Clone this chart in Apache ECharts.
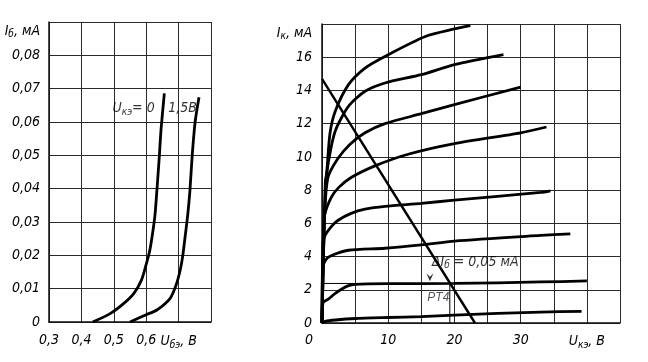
<!DOCTYPE html>
<html><head><meta charset="utf-8">
<script src="https://cdn.jsdelivr.net/npm/echarts@6/dist/echarts.min.js"></script>
<style>html,body{margin:0;padding:0;background:#fff}#c{width:648px;height:362px}</style>
</head><body><div id="c"></div>
<script>
// ---- Input characteristics I_b(U_be) ----
const inputCurveUce0 = [[0.435,0],[0.49,0.0026],[0.53,0.0055],[0.562,0.0086],[0.585,0.0125],[0.598,0.0166],[0.61,0.021],[0.618,0.0255],[0.627,0.032],[0.633,0.0395],[0.64,0.049],[0.646,0.058],[0.656,0.0686]];
const inputCurveUce15 = [[0.55,0],[0.6,0.0022],[0.633,0.0036],[0.674,0.0071],[0.692,0.011],[0.705,0.0156],[0.713,0.02],[0.72,0.0255],[0.728,0.032],[0.735,0.0395],[0.742,0.05],[0.751,0.06],[0.763,0.0674]];
const inputXTicks = {'0.3':'0,3','0.4':'0,4','0.5':'0,5','0.6':'0,6','0.7':'{i|U}{s|бэ}{i|, В}'};
const inputYTicks = ['0','0,01','0,02','0,03','0,04','0,05','0,06','0,07','0,08'];

// ---- Output characteristics I_k(U_ke), I_b step 0.05 mA ----
const outIb000 = [[0,0],[0.5,0.1],[2,0.18],[5,0.27],[10,0.33],[15,0.38],[20,0.48],[33,0.66],[39.2,0.7]];
const outIb005 = [[0,0],[0.15,1.2],[1,1.45],[2,1.78],[3,2.05],[4,2.25],[5,2.33],[10,2.37],[20,2.38],[33,2.47],[40,2.53]];
const outIb010 = [[0,0],[0.15,3.4],[0.7,3.87],[2,4.15],[4,4.38],[9.5,4.5],[15,4.7],[20,4.93],[33,5.27],[37.5,5.37]];
const outIb015 = [[0,0],[0.15,4.8],[0.5,5.3],[1.5,5.85],[2.5,6.2],[4.4,6.6],[6.5,6.85],[9.5,7.02],[15,7.2],[20,7.4],[33,7.86],[34.5,7.96]];
const outIb020 = [[0,0],[0.2,5.2],[0.4,6.5],[1.4,7.56],[2.5,8.15],[4.4,8.76],[8,9.46],[13,10.16],[20,10.8],[30,11.45],[33.9,11.8]];
const outIb025 = [[0,0],[0.4,6.5],[0.9,8.76],[2.4,9.9],[4.2,10.75],[6.5,11.45],[9.5,12.0],[15,12.6],[20,13.15],[30,14.2]];
const outIb030 = [[0,0],[0.5,8],[1,9.76],[2,11.56],[4,13.05],[6.5,13.95],[9.5,14.45],[15,14.95],[20,15.55],[27.4,16.15]];
const outIb035 = [[0,0],[0.5,8.5],[0.7,9.0],[1.2,11.4],[2,12.75],[4,14.35],[6.5,15.35],[9.5,16.05],[15.6,17.25],[20,17.7],[22.4,17.9]];
const loadLine = [[0,14.7],[23.1,0]];
const opPoint = [19.3,2.38];
const outXTicks = {'0':'{z|0}','10':'10','20':'20','30':'30','40':'{i|U}{s|кэ}{i|, В}'};
const outYTicks = ['0','2','4','6','8','10','12','14','16'];

const FONT = '"Liberation Sans Narrow","DejaVu Sans Condensed","DejaVu Sans",sans-serif';
const C = '#000';
const FS = 14;
const rich = {
  i:{fontFamily:FONT,fontStyle:'italic',fontSize:FS,color:C},
  s:{fontFamily:FONT,fontStyle:'italic',fontSize:10,color:C,padding:[7,0,0,0]},
  ti:{fontFamily:FONT,fontStyle:'italic',fontSize:FS,color:C,padding:[18,0,0,0]},
  ts:{fontFamily:FONT,fontStyle:'italic',fontSize:10,color:C,padding:[25,0,0,0]},
  z:{fontFamily:FONT,fontStyle:'italic',fontSize:FS,color:C,padding:[0,26,0,0]},
  p:{fontFamily:'"Liberation Sans",Arial,sans-serif',fontSize:12,color:'#2a2a3a'}
};
const lab = {fontFamily:FONT,fontStyle:'italic',fontSize:FS,color:C,rich:rich};
const gridLine = {show:true,lineStyle:{color:'#2a2a2a',width:1}};
const axLine = {show:true,lineStyle:{color:'#111',width:1.5}};
const curve = (data,xi) => ({type:'line',xAxisIndex:xi,yAxisIndex:xi,data:data,showSymbol:false,smooth:0.25,
  lineStyle:{color:'#000',width:2.8},silent:true,z:5});
const thin = (data) => ({type:'line',xAxisIndex:1,yAxisIndex:1,data:data,showSymbol:false,
  lineStyle:{color:'#000',width:1},silent:true,z:4});
const textPt = (xi,pt,fmt,pos) => ({type:'scatter',xAxisIndex:xi,yAxisIndex:xi,symbolSize:0,data:[pt],silent:true,
  label:{show:true,position:pos||'right',distance:0,formatter:fmt,rich:rich,fontFamily:FONT,fontStyle:'italic',fontSize:FS,color:C}});

const chart = echarts.init(document.getElementById('c'),null,{renderer:'canvas'});
chart.setOption({
  animation:false,
  backgroundColor:'#fff',
  grid:[{left:49,top:22,width:162,height:300},{left:322,top:24,width:298,height:299}],
  xAxis:[
    {type:'value',gridIndex:0,min:0.3,max:0.8,interval:0.1,axisLine:axLine,axisTick:{show:false},splitLine:gridLine,
     axisLabel:Object.assign({margin:11,showMinLabel:true,showMaxLabel:true,
       formatter:v=>inputXTicks[(Math.round(v*10)/10).toString()]||''},lab)},
    {type:'value',gridIndex:1,min:0,max:45,interval:5,axisLine:axLine,axisTick:{show:false},splitLine:gridLine,
     axisLabel:Object.assign({margin:10,showMinLabel:true,showMaxLabel:true,
       formatter:v=>outXTicks[String(Math.round(v))]||''},lab)}
  ],
  yAxis:[
    {type:'value',gridIndex:0,min:0,max:0.09,interval:0.01,axisLine:axLine,axisTick:{show:false},splitLine:gridLine,
     axisLabel:Object.assign({margin:9,showMinLabel:true,showMaxLabel:true,
       formatter:v=>{const k=Math.round(v*100);return k<inputYTicks.length?inputYTicks[k]:'{ti|I}{ts|б}{ti|, мА}';}},lab)},
    {type:'value',gridIndex:1,min:0,max:18,interval:2,axisLine:axLine,axisTick:{show:false},splitLine:gridLine,
     axisLabel:Object.assign({margin:10,showMinLabel:true,showMaxLabel:true,
       formatter:v=>{const k=Math.round(v/2);return k<outYTicks.length?outYTicks[k]:'{ti|I}{ts|к}{ti|, мА}';}},lab)}
  ],
  series:[
    curve(inputCurveUce0,0), curve(inputCurveUce15,0),
    textPt(0,[0.496,0.064],'{i|U}{s|кэ}{i|= 0}'),
    textPt(0,[0.668,0.064],'{i|1,5В}'),
    curve(outIb000,1),curve(outIb005,1),curve(outIb010,1),curve(outIb015,1),
    curve(outIb020,1),curve(outIb025,1),curve(outIb030,1),curve(outIb035,1),
    Object.assign(curve(loadLine,1),{smooth:false,lineStyle:{color:'#000',width:2.4}}),
    thin([[0,opPoint[1]],[5,opPoint[1]]]),
    thin([[opPoint[0],0],opPoint]),
    textPt(1,[16.6,3.65],'{i|ΔI}{s|б}{i| = 0,05 мА}'),
    textPt(1,[15.9,1.55],'{p|PT4}'),
    {type:'scatter',xAxisIndex:1,yAxisIndex:1,data:[[16.3,2.75]],symbol:'path://M0,0 L5,7 L10,0 L5,3 Z',symbolSize:[7,8],
     itemStyle:{color:'#000'},silent:true}
  ]
});
</script></body></html>
